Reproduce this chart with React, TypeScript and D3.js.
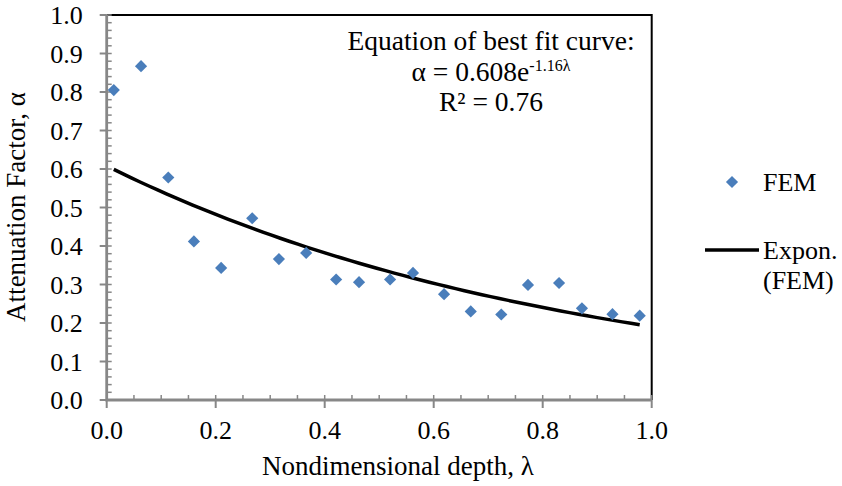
import { useEffect, useRef } from "react";
import * as d3 from "d3";

// FEM results
const depth = [0.013, 0.063, 0.113, 0.16, 0.21, 0.267, 0.316, 0.366, 0.421, 0.463,
  0.52, 0.562, 0.619, 0.668, 0.724, 0.773, 0.83, 0.872, 0.928, 0.978];
const attenuation = [0.805, 0.867, 0.578, 0.412, 0.343, 0.472, 0.366, 0.382, 0.313, 0.306,
  0.313, 0.33, 0.275, 0.23, 0.222, 0.299, 0.304, 0.238, 0.223, 0.219];

// exponential trendline from the annotation: alpha = a * e^(b * lambda)
const fitA = 0.608;
const fitB = -1.16;

const xTicks = [0, 0.2, 0.4, 0.6, 0.8, 1.0];
const yTicks = [0, 0.1, 0.2, 0.3, 0.4, 0.5, 0.6, 0.7, 0.8, 0.9, 1.0];

const FONT = "'Liberation Serif', 'Times New Roman', serif";
const BLUE = "#4A7EBB";
const AXIS = "#878787";

function Chart() {
  const ref = useRef<SVGSVGElement>(null);

  useEffect(() => {
    const svg = d3.select(ref.current);
    svg.selectAll("*").remove();

    const x = d3.scaleLinear().domain([0, 1]).range([106.7, 651.7]);
    const y = d3.scaleLinear().domain([0, 1]).range([400, 15]);
    const [x0, x1] = x.range();
    const [yb, yt] = y.range();

    // frame top/right
    svg.append("path")
      .attr("d", `M${x0},${yt}H${x1}V${yb}`)
      .attr("fill", "none").attr("stroke", "#000").attr("stroke-width", 2);

    // minor ticks
    const yMinor = d3.range(0, 1.0001, 0.02);
    svg.append("g").selectAll("line").data(yMinor).join("line")
      .attr("x1", x0).attr("x2", x0 + 5)
      .attr("y1", (d) => y(d)).attr("y2", (d) => y(d))
      .attr("stroke", AXIS).attr("stroke-width", 1.5);
    const xMinor = d3.range(0, 1.0001, 0.05);
    svg.append("g").selectAll("line").data(xMinor).join("line")
      .attr("x1", (d) => x(d)).attr("x2", (d) => x(d))
      .attr("y1", yb).attr("y2", yb - 5)
      .attr("stroke", AXIS).attr("stroke-width", 1.5);

    // major ticks
    svg.append("g").selectAll("line").data(yTicks).join("line")
      .attr("x1", x0 - 7).attr("x2", x0)
      .attr("y1", (d) => y(d)).attr("y2", (d) => y(d))
      .attr("stroke", AXIS).attr("stroke-width", 2);
    svg.append("g").selectAll("line").data(xTicks).join("line")
      .attr("x1", (d) => x(d)).attr("x2", (d) => x(d))
      .attr("y1", yb).attr("y2", yb + 8)
      .attr("stroke", AXIS).attr("stroke-width", 2);

    // axis lines
    svg.append("path")
      .attr("d", `M${x0},${yt}V${yb}H${x1}`)
      .attr("fill", "none").attr("stroke", AXIS).attr("stroke-width", 2.8);

    // tick labels
    svg.append("g").selectAll("text").data(yTicks).join("text")
      .attr("x", x0 - 24).attr("y", (d) => y(d) + 9)
      .attr("text-anchor", "end")
      .style("font-family", FONT).style("font-size", "26px")
      .text((d) => d.toFixed(1));
    svg.append("g").selectAll("text").data(xTicks).join("text")
      .attr("x", (d) => x(d)).attr("y", yb + 39)
      .attr("text-anchor", "middle")
      .style("font-family", FONT).style("font-size", "26px")
      .text((d) => d.toFixed(1));

    // axis titles
    svg.append("text")
      .attr("x", 398).attr("y", 475)
      .attr("text-anchor", "middle")
      .style("font-family", FONT).style("font-size", "27px")
      .text("Nondimensional depth, λ");
    svg.append("text")
      .attr("transform", "translate(25,207) rotate(-90)")
      .attr("text-anchor", "middle")
      .style("font-family", FONT).style("font-size", "27px")
      .text("Attenuation Factor, α");

    // trendline
    const [dMin, dMax] = d3.extent(depth) as [number, number];
    const curvePts = d3.range(0, 61).map((i) => {
      const l = dMin + ((dMax - dMin) * i) / 60;
      return [l, fitA * Math.exp(fitB * l)] as [number, number];
    });
    const line = d3.line<[number, number]>().x((d) => x(d[0])).y((d) => y(d[1]));
    svg.append("path")
      .attr("d", line(curvePts))
      .attr("fill", "none").attr("stroke", "#000").attr("stroke-width", 3.5);

    // points
    const diamond = d3.symbol(d3.symbolSquare, 74)();
    svg.append("g").selectAll("path").data(depth).join("path")
      .attr("d", diamond)
      .attr("transform", (d, i) => `translate(${x(d)},${y(attenuation[i])}) rotate(45)`)
      .attr("fill", BLUE);

    // annotation
    const note = svg.append("g")
      .style("font-family", FONT).style("font-size", "27.5px")
      .attr("text-anchor", "middle");
    note.append("text").attr("x", 491).attr("y", 50).text("Equation of best fit curve:");
    const eq = note.append("text").attr("x", 491).attr("y", 81);
    eq.append("tspan").text("α = 0.608e");
    eq.append("tspan").attr("dy", -10).style("font-size", "16px").text("-1.16λ");
    note.append("text").attr("x", 491).attr("y", 111).text("R² = 0.76");

    // legend
    svg.append("path")
      .attr("d", diamond)
      .attr("transform", "translate(732,182) rotate(45)")
      .attr("fill", BLUE);
    svg.append("line")
      .attr("x1", 705).attr("x2", 759).attr("y1", 250).attr("y2", 250)
      .attr("stroke", "#000").attr("stroke-width", 3.5);
    const leg = svg.append("g").style("font-family", FONT).style("font-size", "26px");
    leg.append("text").attr("x", 763).attr("y", 191).text("FEM");
    leg.append("text").attr("x", 763).attr("y", 259).text("Expon.");
    leg.append("text").attr("x", 763).attr("y", 289).text("(FEM)");
  }, []);

  return (
    <svg
      ref={ref}
      width={842}
      height={486}
      style={{ position: "absolute", left: 0, top: 0, background: "#fff" }}
    />
  );
}

export default function App() {
  return <Chart />;
}
